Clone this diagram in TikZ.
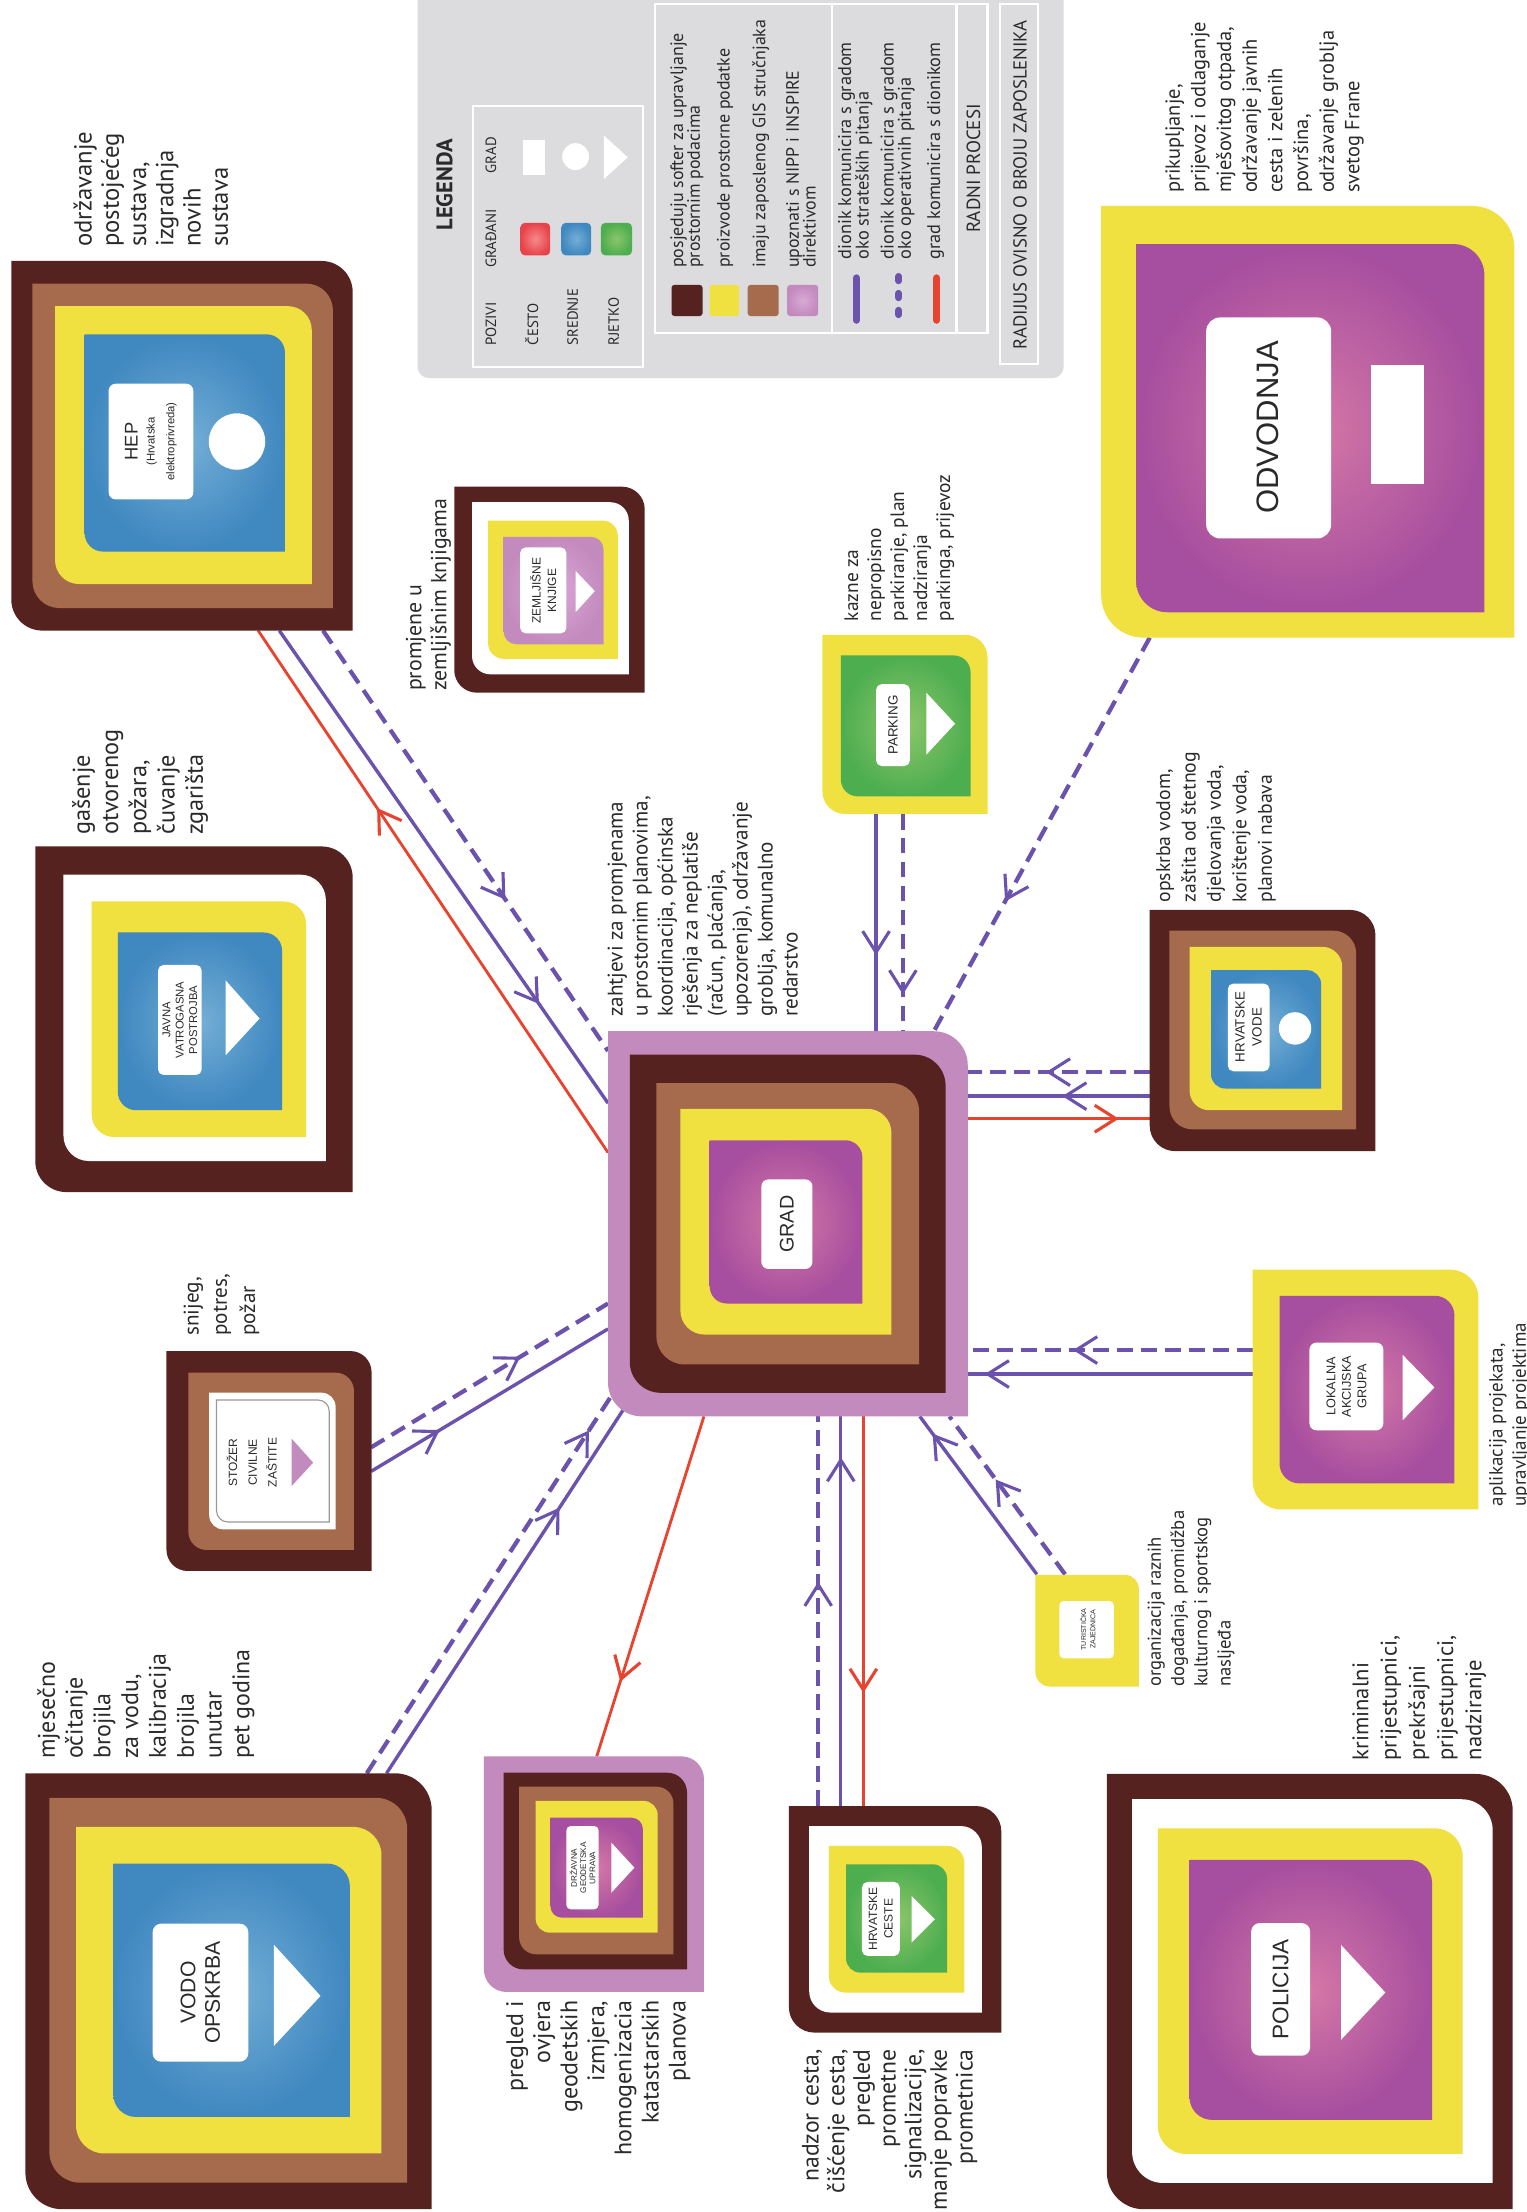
\documentclass[tikz,border=0pt]{standalone}
\usepackage{fontspec}
\setmainfont{PT Sans}
\newfontfamily\labf{Liberation Sans}
\usetikzlibrary{arrows.meta,decorations.markings}
\definecolor{dbrown}{HTML}{56221F}
\definecolor{sienna}{HTML}{A56B4C}
\definecolor{yel}{HTML}{F0E040}
\definecolor{orchid}{HTML}{C38ABE}
\definecolor{orchidc}{HTML}{D9A9D5}
\definecolor{mag}{HTML}{A64E9F}
\definecolor{magc}{HTML}{D577A6}
\definecolor{blu}{HTML}{3F88C0}
\definecolor{bluc}{HTML}{74AED6}
\definecolor{grn}{HTML}{4DAE4F}
\definecolor{grnc}{HTML}{8CC66A}
\definecolor{redsq}{HTML}{E8434B}
\definecolor{redc}{HTML}{F58A8A}
\definecolor{lpur}{HTML}{6A52AD}
\definecolor{lred}{HTML}{E8432E}
\definecolor{lgray}{HTML}{DCDCDE}
\definecolor{txt}{HTML}{2A2A2A}
% box with rounded top-right and bottom-left corners (image coords, y down)
\newcommand{\mybox}[6]{\path[#6] (#1,#2) -- ({#3-#5},#2) arc[start angle=270,end angle=360,radius=#5] -- (#3,#4) -- ({#1+#5},#4) arc[start angle=90,end angle=180,radius=#5] -- cycle;}
\newcommand{\mylab}[5]{\fill[white,rounded corners=#5] (#1,#2) rectangle (#3,#4);}
\begin{document}
\begin{tikzpicture}[x=1pt,y=-1pt,
  desc/.style={rotate=90,inner sep=0pt,text=txt,align=left},
  descr/.style={rotate=90,inner sep=0pt,text=txt,align=right},
  lab/.style={rotate=90,inner sep=0pt,text=txt,align=center},
  pl/.style={draw=lpur,line width=2.4pt},
  pd/.style={draw=lpur,line width=3pt,dash pattern=on 11pt off 6pt},
  rl/.style={draw=lred,line width=2pt},
  ar/.style={postaction={decorate,decoration={markings,mark=at position #1 with {\arrow{Straight Barb[length=15pt,width=19pt,line width=2.2pt]}}}}},
]
\useasboundingbox (0,0) rectangle (1082,1568);
\fill[white] (0,0) rectangle (1082,1568);

% ---------------- LEGEND ----------------
\fill[lgray,rounded corners=8] (296,-12) rectangle (754,268);
\draw[white,line width=1.5pt] (335,75) rectangle (456,260);
\draw[white,line width=1.5pt] (464,3) rectangle (700,236);
\draw[white,line width=1.5pt] (590,3) -- (590,236);
\draw[white,line width=1.5pt] (678,3) -- (678,236);
\draw[white,line width=1.5pt] (709,3) rectangle (736,258);
\node[lab,font=\bfseries\fontsize{16}{18}\selectfont] (legT) at (315,131) {LEGENDA};
\node[desc,anchor=west,font=\fontsize{10.5}{12}\selectfont] (lgPoz) at (348,245) {POZIVI};
\node[lab,font=\fontsize{10.5}{12}\selectfont] (lgGra) at (348,169) {GRAĐANI};
\node[lab,font=\fontsize{10.5}{12}\selectfont] (lgGrad) at (348,110) {GRAD};
\node[desc,anchor=west,font=\fontsize{10.5}{12}\selectfont] (lgC) at (377,245) {ČESTO};
\node[desc,anchor=west,font=\fontsize{10.5}{12}\selectfont] (lgS) at (406,245) {SREDNJE};
\node[desc,anchor=west,font=\fontsize{10.5}{12}\selectfont] (lgR) at (435,245) {RJETKO};
\shade[inner color=redc,outer color=redsq,rounded corners=3] (369,158) rectangle (390,181);
\shade[inner color=bluc,outer color=blu,rounded corners=3] (398,158) rectangle (419,181);
\shade[inner color=grnc,outer color=grn,rounded corners=3] (426,158) rectangle (448,181);
\fill[white] (371,99) rectangle (386,124);
\fill[white] (408,111) circle [radius=9.5];
\fill[white] (428,96) -- (428,127) -- (445,111.5) -- cycle;
\fill[dbrown,rounded corners=2] (476,202) rectangle (498,224);
\fill[yel,rounded corners=2] (503,202) rectangle (524,224);
\fill[sienna,rounded corners=2] (530,202) rectangle (552,224);
\shade[inner color=orchidc,outer color=orchid,rounded corners=2] (558,202) rectangle (580,224);
\node[desc,anchor=north west,font=\fontsize{12.7}{12}\selectfont] (lg1) at (475,190) {posjeduju softer za upravljanje\\prostornim podacima};
\node[desc,anchor=north west,font=\fontsize{12.7}{12}\selectfont] (lg2) at (508,190) {proizvode prostorne podatke};
\node[desc,anchor=north west,font=\fontsize{12.7}{12}\selectfont] (lg3) at (533,190) {imaju zaposlenog GIS stručnjaka};
\node[desc,anchor=north west,font=\fontsize{12.7}{12}\selectfont] (lg4) at (557,190) {upoznati s NIPP i INSPIRE\\direktivom};
\draw[lpur,line width=5pt,line cap=round] (607,197) -- (607,227);
\draw[lpur,line width=5pt,line cap=round,dash pattern=on 3pt off 9pt] (637,196) -- (637,229);
\draw[lred,line width=5pt,line cap=round] (664,197) -- (664,227);
\node[desc,anchor=north west,font=\fontsize{13}{12.3}\selectfont] (lg5) at (594,184) {dionik komunicira s gradom\\oko strateških pitanja};
\node[desc,anchor=north west,font=\fontsize{13}{12.3}\selectfont] (lg6) at (624,184) {dionik komunicira s gradom\\oko operativnih pitanja};
\node[desc,anchor=north west,font=\fontsize{13}{12.3}\selectfont] (lg7) at (657,184) {grad komunicira s dionikom};
\node[lab,font=\fontsize{13.5}{14}\selectfont] (lgRP) at (690,119.5) {RADNI PROCESI};
\node[lab,font=\fontsize{13.3}{14}\selectfont] (lgRad) at (723,131) {RADIJUS OVISNO O BROJU ZAPOSLENIKA};

% ---------------- CONNECTORS ----------------
\coordinate (hepR) at (183,447);  \coordinate (gradR1) at (431,817);
\coordinate (hepS) at (198,447);  \coordinate (gradS1) at (431,782);
\coordinate (hepD) at (229,447);  \coordinate (gradD1) at (431,745);
\coordinate (parkS) at (621,577); \coordinate (gradS2) at (621,731);
\coordinate (parkD) at (640,577); \coordinate (gradD2) at (640,731);
\coordinate (odvD) at (815,452);  \coordinate (gradD3) at (662,731);
\coordinate (hvD) at (815,760);   \coordinate (gradD4) at (686,760);
\coordinate (hvS) at (815,777);   \coordinate (gradS4) at (686,777);
\coordinate (hvR) at (815,793);   \coordinate (gradR4) at (686,793);
\coordinate (lagD) at (888,957);  \coordinate (gradD5) at (686,957);
\coordinate (lagS) at (888,974);  \coordinate (gradS5) at (686,974);
\coordinate (dguR) at (423,1245); \coordinate (gradR6) at (499,1004);
\coordinate (hcD) at (580,1280);  \coordinate (gradD7) at (580,1004);
\coordinate (hcS) at (596,1280);  \coordinate (gradS7) at (596,1004);
\coordinate (hcR) at (612,1280);  \coordinate (gradR7) at (612,1004);
\coordinate (tzS) at (735,1116);  \coordinate (gradS8) at (652,1004);
\coordinate (tzD) at (755,1116);  \coordinate (gradD8) at (673,1004);
\coordinate (stS) at (263,1043);  \coordinate (gradS9) at (431,942);
\coordinate (stD) at (263,1026);  \coordinate (gradD9) at (431,924);
\coordinate (voS) at (274,1257);  \coordinate (gradS10) at (442,999);
\coordinate (voD) at (260,1257);  \coordinate (gradD10) at (433,990);

\draw[rl,ar=0.66] (gradR1) -- (hepR);
\draw[pl,ar=0.79] (hepS) -- (gradS1);
\draw[pd,ar=0.64] (hepD) -- (gradD1);
\draw[pl,ar=0.65] (parkS) -- (gradS2);
\draw[pd,ar=0.83] (parkD) -- (gradD2);
\draw[pd,ar=0.67] (odvD) -- (gradD3);
\draw[pd,ar=0.57] (hvD) -- (gradD4);
\draw[pl,ar=0.48] (hvS) -- (gradS4);
\draw[rl,ar=0.83] (gradR4) -- (hvR);
\draw[pd,ar=0.63] (lagD) -- (gradD5);
\draw[pl,ar=0.94] (lagS) -- (gradS5);
\draw[rl,ar=0.78] (gradR6) -- (dguR);
\draw[pd,ar=0.575] (hcD) -- (gradD7);
\draw[pl,ar=0.895] (hcS) -- (gradS7);
\draw[rl,ar=0.71] (gradR7) -- (hcR);
\draw[pl,ar=0.89] (tzS) -- (gradS8);
\draw[pd,ar=0.60] (tzD) -- (gradD8);
\draw[pl,ar=0.29] (stS) -- (gradS9);
\draw[pd,ar=0.63] (stD) -- (gradD9);
\draw[pl,ar=0.73] (voS) -- (gradS10);
\draw[pd,ar=0.91] (voD) -- (gradD10);

% ---------------- HEP ----------------
\mybox{8}{185}{250}{447}{22}{fill=dbrown}
\mybox{23}{201}{236}{431}{19}{fill=sienna}
\mybox{39}{217}{221}{414}{17}{fill=yel}
\mybox{60}{237}{202}{391}{13}{inner color=bluc,outer color=blu,shade}
\mylab{77}{272}{137}{354}{5}
\fill[white] (168,313) circle [radius=20];
\node[lab,font=\labf\fontsize{13}{14}\selectfont] (hepL) at (107,313) {HEP\\[-2pt]{\fontsize{8}{8.5}\selectfont (Hrvatska}\\{\fontsize{8}{8.5}\selectfont elektroprivreda)}};
\node[desc,anchor=north west,font=\fontsize{17.5}{19.3}\selectfont] (hepT) at (52,175) {održavanje\\postojećeg\\sustava,\\izgradnja\\novih\\sustava};

% ---------------- JAVNA VATROGASNA ----------------
\mybox{25}{600}{250}{845}{22}{fill=dbrown}
\mybox{45}{620}{231}{823}{18}{fill=white}
\mybox{65}{639}{217}{806}{16}{fill=yel}
\mybox{83.5}{661}{200}{787}{13}{inner color=bluc,outer color=blu,shade}
\mylab{112}{684}{143}{762}{4}
\fill[white] (160,695) -- (160,748) -- (184,722) -- cycle;
\node[lab,font=\labf\fontsize{8}{9.5}\selectfont] (javL) at (127.5,723) {JAVNA\\VATROGASNA\\POSTROJBA};
\node[desc,anchor=north west,font=\fontsize{17.2}{20}\selectfont] (javT) at (51,592) {gašenje\\otvorenog\\požara,\\čuvanje\\zgarišta};

% ---------------- ZEMLJISNE KNJIGE ----------------
\mybox{322}{345}{457}{491}{16}{fill=dbrown}
\mybox{334.6}{356}{445.7}{478}{13}{fill=white}
\mybox{346}{369}{438}{467}{11}{fill=yel}
\mybox{357}{380.5}{427.8}{456.7}{9}{inner color=orchidc,outer color=orchid,shade}
\mylab{368.7}{388}{401.5}{449}{4}
\fill[white] (408,404.7) -- (408,434) -- (421.6,419) -- cycle;
\node[lab,font=\labf\fontsize{8.5}{11}\selectfont] (zkL) at (385,418.5) {ZEMLJIŠNE\\KNJIGE};
\node[desc,anchor=north west,font=\fontsize{15.5}{17.7}\selectfont] (zkT) at (287.5,490) {promjene u\\zemljišnim knjigama};

% ---------------- PARKING ----------------
\mybox{583}{450}{700}{577}{16}{fill=yel}
\mybox{596}{464.6}{688}{564.5}{12}{inner color=grnc,outer color=grn,shade}
\mylab{621}{485}{645}{543}{4}
\fill[white] (656.6,491) -- (656.6,535) -- (677,513) -- cycle;
\node[lab,font=\labf\fontsize{9.5}{11}\selectfont] (parkL) at (633,514) {PARKING};
\node[desc,anchor=north west,font=\fontsize{13.8}{16.3}\selectfont] (parkT) at (598.4,440.5) {kazne za\\nepropisno\\parkiranje, plan\\nadziranja\\parkinga, prijevoz};

% ---------------- GRAD ----------------
\mybox{431}{731}{686}{1004}{24}{fill=orchid}
\mybox{446.4}{747.6}{670.3}{987.3}{22}{fill=dbrown}
\mybox{465.3}{767.7}{651.5}{967.2}{20}{fill=sienna}
\mybox{482.3}{786}{631.9}{946}{17}{fill=yel}
\mybox{503.1}{808.3}{611.3}{924}{12}{inner color=magc,outer color=mag,shade}
\mylab{539.7}{836}{575.9}{899.5}{5}
\node[lab,font=\labf\fontsize{14}{16}\selectfont] (gradL) at (557.8,867.8) {GRAD};
\node[desc,anchor=north west,font=\fontsize{15}{17.7}\selectfont] (gradT) at (430.6,721) {zahtjevi za promjenama\\u prostornim planovima,\\koordinacija, općinska\\rješenja za neplatiše\\(račun, plaćanja,\\upozorenja), održavanje\\groblja, komunalno\\redarstvo};

% ---------------- HRVATSKE VODE ----------------
\mybox{815}{645}{975}{816}{18}{fill=dbrown}
\mybox{829}{659.7}{961.3}{800.5}{16}{fill=sienna}
\mybox{843.2}{671.2}{951.4}{787}{14}{fill=yel}
\mybox{858.5}{687.7}{936.5}{771.6}{10}{inner color=bluc,outer color=blu,shade}
\mylab{870.3}{697.2}{899.9}{759.4}{4}
\fill[white] (918,729) circle [radius=11.5];
\node[lab,font=\labf\fontsize{9.5}{12}\selectfont] (hvL) at (885,728) {HRVATSKE\\VODE};
\node[desc,anchor=north west,font=\fontsize{14}{18}\selectfont] (hvT) at (819.5,640) {opskrba vodom,\\zaštita od štetnog\\djelovanja voda,\\korištenje voda,\\planovi nabava};

% ---------------- ODVODNJA ----------------
\mybox{780.6}{146}{1073.5}{452}{30}{fill=yel}
\mybox{805.4}{173}{1052.2}{434}{22}{inner color=magc,outer color=mag,shade}
\mylab{855}{225}{943.6}{381.7}{10}
\fill[white] (972,259) rectangle (1009.7,343);
\node[lab,font=\labf\fontsize{22}{24}\selectfont] (odvL) at (899,303) {ODVODNJA};
\node[desc,anchor=north west,font=\fontsize{14.5}{18.2}\selectfont] (odvT) at (825.8,137) {prikupljanje,\\prijevoz i odlaganje\\mješovitog otpada,\\održavanje javnih\\cesta i zelenih\\površina,\\održavanje groblja\\svetog Frane};

% ---------------- LOKALNA AKCIJSKA GRUPA ----------------
\mybox{888}{900}{1048}{1070}{20}{fill=yel}
\mybox{907}{918.5}{1031}{1051.5}{14}{inner color=magc,outer color=mag,shade}
\mylab{928.2}{951.7}{980.6}{1013.9}{5}
\fill[white] (994.3,960.4) -- (994.3,1006.7) -- (1016.8,983.5) -- cycle;
\node[lab,font=\labf\fontsize{9}{11}\selectfont] (lagL) at (954.4,982.8) {LOKALNA\\AKCIJSKA\\GRUPA};
\node[desc,anchor=north west,font=\fontsize{13.5}{16.6}\selectfont] (lagT) at (1055.3,1068) {aplikacija projekata,\\upravljanje projektima};

% ---------------- STOZER ----------------
\mybox{118}{957.7}{263.4}{1113.6}{15}{fill=dbrown}
\mybox{133.5}{973}{250.9}{1098.7}{13}{fill=sienna}
\mybox{148.3}{987.2}{237.9}{1084.1}{10}{fill=white}
\mybox{153.5}{992.4}{233.4}{1078.9}{8}{draw=gray!80,line width=0.8pt}
\fill[orchid] (206.7,1019.8) -- (206.7,1053.4) -- (222,1036.8) -- cycle;
\node[lab,font=\labf\fontsize{8.5}{14}\selectfont] (stL) at (178.4,1036.8) {STOŽER\\CIVILNE\\ZAŠTITE};
\node[desc,anchor=north west,font=\fontsize{15}{20}\selectfont] (stT) at (130,947) {snijeg,\\potres,\\požar};

% ---------------- VODO OPSKRBA ----------------
\mybox{18}{1257}{306}{1566}{26}{fill=dbrown}
\mybox{35}{1274.4}{288.6}{1547.2}{22}{fill=sienna}
\mybox{53.9}{1295}{270.4}{1526.5}{20}{fill=yel}
\mybox{80.3}{1321}{248}{1500.6}{16}{inner color=bluc,outer color=blu,shade}
\mylab{108.2}{1363.6}{176}{1461.4}{6}
\fill[white] (194.2,1378.6) -- (194.2,1450.2) -- (227.2,1414.8) -- cycle;
\node[lab,font=\labf\fontsize{15}{17.5}\selectfont] (voL) at (142,1412.5) {VODO\\OPSKRBA};
\node[desc,anchor=north west,font=\fontsize{17}{19.7}\selectfont] (voT) at (26.2,1247) {mjesečno\\očitanje\\brojila\\za vodu,\\kalibracija\\brojila\\unutar\\pet godina};

% ---------------- DRZAVNA GEODETSKA UPRAVA ----------------
\mybox{343}{1245}{499}{1412}{16}{fill=orchid}
\mybox{357}{1256.6}{487}{1396}{14}{fill=dbrown}
\mybox{368}{1266.5}{477.4}{1385.3}{12}{fill=sienna}
\mybox{379.7}{1276.6}{466.2}{1370}{10}{fill=yel}
\mybox{390.2}{1288.5}{455.7}{1359.3}{8}{inner color=magc,outer color=mag,shade}
\mylab{401.5}{1294.4}{424.3}{1353.4}{3}
\fill[white] (433.4,1306.2) -- (433.4,1341.6) -- (449.7,1323.9) -- cycle;
\node[lab,font=\labf\fontsize{5.8}{6.6}\selectfont] (dguL) at (413,1324) {DRŽAVNA\\GEODETSKA\\UPRAVA};
\node[descr,anchor=north east,font=\fontsize{17}{19.2}\selectfont] (dguT) at (358.6,1418) {pregled i\\ovjera\\geodetskih\\izmjera,\\homogenizacia\\katastarskih\\planova};

% ---------------- HRVATSKE CESTE ----------------
\mybox{559.2}{1280.2}{709.8}{1440.8}{18}{fill=dbrown}
\mybox{573.6}{1294.4}{696}{1426.6}{15}{fill=white}
\mybox{587.5}{1308.5}{683.6}{1412.5}{12}{fill=yel}
\mybox{599.8}{1321.5}{671.3}{1398.3}{10}{inner color=grnc,outer color=grn,shade}
\mylab{611}{1334}{637.8}{1386.5}{4}
\fill[white] (646.2,1344) -- (646.2,1377) -- (662.7,1360.5) -- cycle;
\node[lab,font=\labf\fontsize{8.5}{11}\selectfont] (hcL) at (624.4,1360.2) {HRVATSKE\\CESTE};
\node[descr,anchor=north east,font=\fontsize{16.8}{18.2}\selectfont] (hcT) at (568.3,1452.6) {nadzor cesta,\\čišćenje cesta,\\pregled\\prometne\\signalizacije,\\manje popravke\\prometnica};

% ---------------- TURISTICKA ZAJEDNICA ----------------
\mybox{734}{1116.3}{807.3}{1195.5}{10}{fill=yel}
\mylab{751}{1134.9}{789.5}{1175.5}{3}
\node[lab,font=\labf\fontsize{5}{6.5}\selectfont] (tzL) at (771,1155) {TURISTIČKA\\ZAJEDNICA};
\node[desc,anchor=north west,font=\fontsize{13.2}{16.5}\selectfont] (tzT) at (813.3,1196) {organizacija raznih\\događanja, promidžba\\kulturnog i sportskog\\nasljeđa};

% ---------------- POLICIJA ----------------
\mybox{784.6}{1257.5}{1072.3}{1566}{26}{fill=dbrown}
\mybox{802.5}{1275.4}{1058.1}{1547.4}{22}{fill=white}
\mybox{820.7}{1296}{1036.8}{1526.8}{20}{fill=yel}
\mybox{843.2}{1318.4}{1015.1}{1502.7}{16}{inner color=magc,outer color=mag,shade}
\mylab{886.9}{1363.2}{928.7}{1457.2}{6}
\fill[white] (950.6,1378.7) -- (950.6,1445.9) -- (982,1412.4) -- cycle;
\node[lab,font=\labf\fontsize{16}{18}\selectfont] (polL) at (907.8,1410.2) {POLICIJA};
\node[desc,anchor=north west,font=\fontsize{16}{20}\selectfont] (polT) at (958.5,1248) {kriminalni\\prijestupnici,\\prekršajni\\prijestupnici,\\nadziranje};
\end{tikzpicture}
\end{document}
